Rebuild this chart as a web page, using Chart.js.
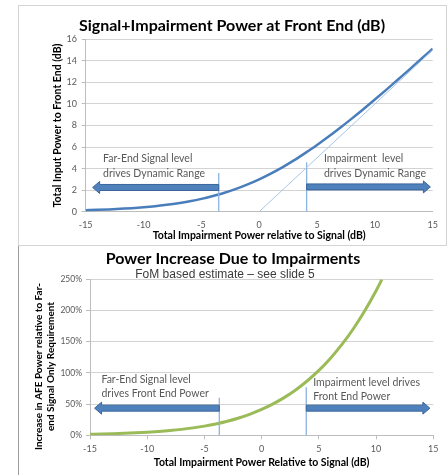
<!DOCTYPE html>
<html>
<head>
<meta charset="utf-8">
<script src="https://cdn.jsdelivr.net/npm/chart.js@4.4.1/dist/chart.umd.min.js"></script>
<style>
  html, body { margin: 0; padding: 0; background: #fff; }
  body { width: 448px; height: 475px; position: relative; overflow: hidden; }
  #frameTop { position: absolute; left: 18px; top: 5px; width: 427px; height: 239px; border: 1px solid #d4d4d4; }
  #frameBottom { position: absolute; left: 18px; top: 246px; width: 429px; height: 229px; border-left: 1px solid #9c9c9c; }
  canvas { display: block; }
</style>
</head>
<body>
<div id="frameTop"><canvas id="dynRange" width="427" height="239"></canvas></div>
<div id="frameBottom"><canvas id="powerInc" width="429" height="229"></canvas></div>
<script>
// ---- Signal + impairment power at the front end ----
const impairmentDb = [-15, -14, -13, -12, -11, -10, -9, -8, -7, -6, -5, -4, -3, -2, -1, 0,
                      1, 2, 3, 4, 5, 6, 7, 8, 9, 10, 11, 12, 13, 14, 15];
const totalInputDb = [0.14, 0.17, 0.21, 0.27, 0.33, 0.41, 0.51, 0.64, 0.79, 0.97, 1.19, 1.46, 1.76, 2.12, 2.54, 3.01,
                      3.54, 4.12, 4.76, 5.46, 6.19, 6.97, 7.79, 8.64, 9.51, 10.41, 11.33, 12.27, 13.21, 14.17, 15.14];
const asymptoteX = [0, 15];
const asymptoteY = [0, 15];
const dbTicks = [0, 2, 4, 6, 8, 10, 12, 14, 16];
const impairmentTicks = [-15, -10, -5, 0, 5, 10, 15];

// region boundaries and arrows (dB)
const rangeDividerX = [-3.5, 4.1];
const rangeDividerTop = [3.6, 4.6];
const rangeArrowFrom = [-3.5, 4.1];
const rangeArrowTo = [-14.4, 14.8];
const rangeArrowLevel = [2.25, 2.3];
const rangeNoteX = [-13.5, 5.6];
const rangeNoteY = [4.9, 3.5];
const rangeNotes = [['Far-End Signal level', 'drives Dynamic Range'], ['Impairment  level', 'drives Dynamic Range']];

// ---- AFE power increase due to impairments ----
const relImpairmentDb = [-15, -14, -13, -12, -11, -10, -9, -8, -7, -6, -5, -4, -3, -2, -1, 0,
                         1, 2, 3, 4, 5, 6, 7, 8, 9, 10, 10.5];
const afePowerIncrease = [1.6, 2.0, 2.5, 3.1, 3.9, 4.9, 6.1, 7.6, 9.5, 11.9, 14.7, 18.2, 22.5, 27.7, 34.0, 41.4,
                          50.3, 60.8, 73.1, 87.4, 104.0, 123.2, 145.2, 170.4, 199.1, 231.7, 249.6];
const percentTicks = [0, 50, 100, 150, 200, 250];

const powerDividerX = [-3.7, 3.9];
const powerDividerTop = [60, 77];
const powerArrowFrom = [-3.7, 3.9];
const powerArrowTo = [-14.6, 14.7];
const powerArrowLevel = [43.5, 43.5];
const powerNoteX = [-14.0, 4.5];
const powerNoteY = [[89.2, 66.6], [83.9, 62.3]];
const powerNotes = [['Far-End Signal level', 'drives Front End Power'], ['Impairment level drives', 'Front End Power']];

const FONT = 'Lato';
const TEXT_GREY = '#595959';
const GRID = '#d3d3d3';
const AXIS = '#bdbdbd';

const toPoints = (xs, ys) => xs.map((v, i) => ({ x: v, y: ys[i] }));

// arrows, notes and free captions drawn on top of the datasets
const overlayPlugin = {
  id: 'overlay',
  afterDatasetsDraw(chart, args, opts) {
    const { ctx } = chart;
    const xs = chart.scales.x, ys = chart.scales.y;
    ctx.save();
    (opts.arrows || []).forEach(a => {
      const x0 = xs.getPixelForValue(a.from);
      const x1 = xs.getPixelForValue(a.to);
      const yc = ys.getPixelForValue(a.level);
      const dir = Math.sign(x1 - x0);
      const head = 7, half = 6, body = 3;
      ctx.beginPath();
      ctx.moveTo(x0, yc - body);
      ctx.lineTo(x1 - dir * head, yc - body);
      ctx.lineTo(x1 - dir * head, yc - half);
      ctx.lineTo(x1, yc);
      ctx.lineTo(x1 - dir * head, yc + half);
      ctx.lineTo(x1 - dir * head, yc + body);
      ctx.lineTo(x0, yc + body);
      ctx.closePath();
      ctx.fillStyle = '#4f81bd';
      ctx.fill();
      ctx.strokeStyle = '#3a659a';
      ctx.lineWidth = 1;
      ctx.stroke();
    });
    ctx.fillStyle = TEXT_GREY;
    ctx.font = '10.5px ' + FONT;
    ctx.textAlign = 'left';
    ctx.textBaseline = 'middle';
    (opts.notes || []).forEach(n => {
      const px = xs.getPixelForValue(n.x);
      n.lines.forEach((line, i) => ctx.fillText(line, px, ys.getPixelForValue(n.y[i])));
    });
    (opts.captions || []).forEach(c => {
      ctx.save();
      ctx.translate(c.x, c.y);
      ctx.rotate(c.rotate || 0);
      ctx.font = c.font;
      ctx.fillStyle = c.color;
      ctx.textAlign = 'center';
      ctx.textBaseline = 'middle';
      c.lines.forEach((line, i) => ctx.fillText(line, 0, (i - (c.lines.length - 1) / 2) * c.lineGap));
      ctx.restore();
    });
    ctx.restore();
  }
};

Chart.defaults.font.family = FONT;
Chart.defaults.color = TEXT_GREY;

const dividerSets = (xsArr, tops) => xsArr.map((v, i) => ({
  data: [{ x: v, y: 0 }, { x: v, y: tops[i] }],
  borderColor: '#8db3df', borderWidth: 1.3, pointRadius: 0, tension: 0
}));

new Chart(document.getElementById('dynRange'), {
  type: 'line',
  data: {
    datasets: [
      { data: toPoints(asymptoteX, asymptoteY), borderColor: '#a9c6e6', borderWidth: 1, pointRadius: 0, tension: 0 },
      ...dividerSets(rangeDividerX, rangeDividerTop),
      { data: toPoints(impairmentDb, totalInputDb), borderColor: '#4a7ebb', borderWidth: 2.5, pointRadius: 0,
        cubicInterpolationMode: 'monotone' }
    ]
  },
  options: {
    responsive: false, animation: false, events: [],
    layout: { padding: { left: 12.3, right: 13.3, top: 0, bottom: 0 } },
    scales: {
      x: {
        type: 'linear', min: -15, max: 15,
        afterBuildTicks: s => { s.ticks = impairmentTicks.map(v => ({ value: v })); },
        afterFit: s => { s.height = 33.3; },
        grid: { display: false, drawTicks: false },
        border: { display: true, color: AXIS },
        ticks: { color: TEXT_GREY, font: { size: 9 }, padding: 8, maxRotation: 0 },
        title: { display: true, text: 'Total Impairment Power relative to Signal (dB)', color: '#000',
                 font: { size: 10.5, weight: 'bold' }, padding: { top: 0, bottom: 3.4 } }
      },
      y: {
        type: 'linear', min: 0, max: 16,
        afterBuildTicks: s => { s.ticks = dbTicks.map(v => ({ value: v })); },
        afterFit: s => { s.width = 54.4; },
        grid: { color: GRID, drawTicks: true, tickLength: 4, tickColor: AXIS },
        border: { display: true, color: AXIS },
        ticks: { color: TEXT_GREY, font: { size: 9 }, padding: 4.7 },
        title: { display: true, text: 'Total Input Power to Front End (dB)', color: '#000',
                 font: { size: 10.5, weight: 'bold' }, padding: { top: 20, bottom: 0 } }
      }
    },
    plugins: {
      legend: { display: false },
      tooltip: { enabled: false },
      title: { display: true, text: 'Signal+Impairment Power at Front End (dB)', color: '#000',
               font: { size: 16, weight: 'bold', lineHeight: 1.2 }, padding: { top: 10.1, bottom: 4 } },
      overlay: {
        arrows: rangeArrowFrom.map((f, i) => ({ from: f, to: rangeArrowTo[i], level: rangeArrowLevel[i] })),
        notes: rangeNotes.map((lines, i) => ({ x: rangeNoteX[i], y: rangeNoteY, lines }))
      }
    }
  },
  plugins: [overlayPlugin]
});

new Chart(document.getElementById('powerInc'), {
  type: 'line',
  data: {
    datasets: [
      ...dividerSets(powerDividerX, powerDividerTop),
      { data: toPoints(relImpairmentDb, afePowerIncrease), borderColor: '#9bbb59', borderWidth: 3, pointRadius: 0,
        cubicInterpolationMode: 'monotone' }
    ]
  },
  options: {
    responsive: false, animation: false, events: [],
    layout: { padding: { left: 13.7, right: 14.7, top: 0, bottom: 0 } },
    scales: {
      x: {
        type: 'linear', min: -15, max: 15,
        afterBuildTicks: s => { s.ticks = impairmentTicks.map(v => ({ value: v })); },
        afterFit: s => { s.height = 39.7; },
        grid: { display: true, drawOnChartArea: false, drawTicks: true, tickLength: 4, tickColor: AXIS },
        border: { display: true, color: AXIS },
        ticks: { color: TEXT_GREY, font: { size: 9 }, padding: 4, maxRotation: 0 },
        title: { display: true, text: 'Total Impairment Power Relative to Signal (dB)', color: '#000',
                 font: { size: 10.5, weight: 'bold' }, padding: { top: 0, bottom: 5.7 } }
      },
      y: {
        type: 'linear', min: 0, max: 250,
        afterBuildTicks: s => { s.ticks = percentTicks.map(v => ({ value: v })); },
        afterFit: s => { s.width = 57.3; },
        grid: { color: GRID, drawTicks: true, tickLength: 4, tickColor: AXIS },
        border: { display: true, color: AXIS },
        ticks: { color: TEXT_GREY, font: { size: 8.5 }, padding: 4, callback: v => v + '%' }
      }
    },
    plugins: {
      legend: { display: false },
      tooltip: { enabled: false },
      title: { display: true, text: 'Power Increase Due to Impairments', color: '#000',
               font: { size: 16, weight: 'bold', lineHeight: 1.0 }, padding: { top: 4.8, bottom: 12.5 } },
      overlay: {
        arrows: powerArrowFrom.map((f, i) => ({ from: f, to: powerArrowTo[i], level: powerArrowLevel[i] })),
        notes: powerNotes.map((lines, i) => ({ x: powerNoteX[i], y: powerNoteY[i], lines })),
        captions: [
          { lines: ['FoM based estimate \u2013 see slide 5'], x: 206, y: 28.3, rotate: 0,
            font: '12px "Liberation Sans"', color: '#3a3a3a', lineGap: 0 },
          { lines: ['Increase in AFE Power relative to Far-', 'end Signal Only Requirement'], x: 26, y: 120.5,
            rotate: -Math.PI / 2, font: 'bold 10px ' + FONT, color: '#000', lineGap: 12 }
        ]
      }
    }
  },
  plugins: [overlayPlugin]
});
</script>
</body>
</html>
